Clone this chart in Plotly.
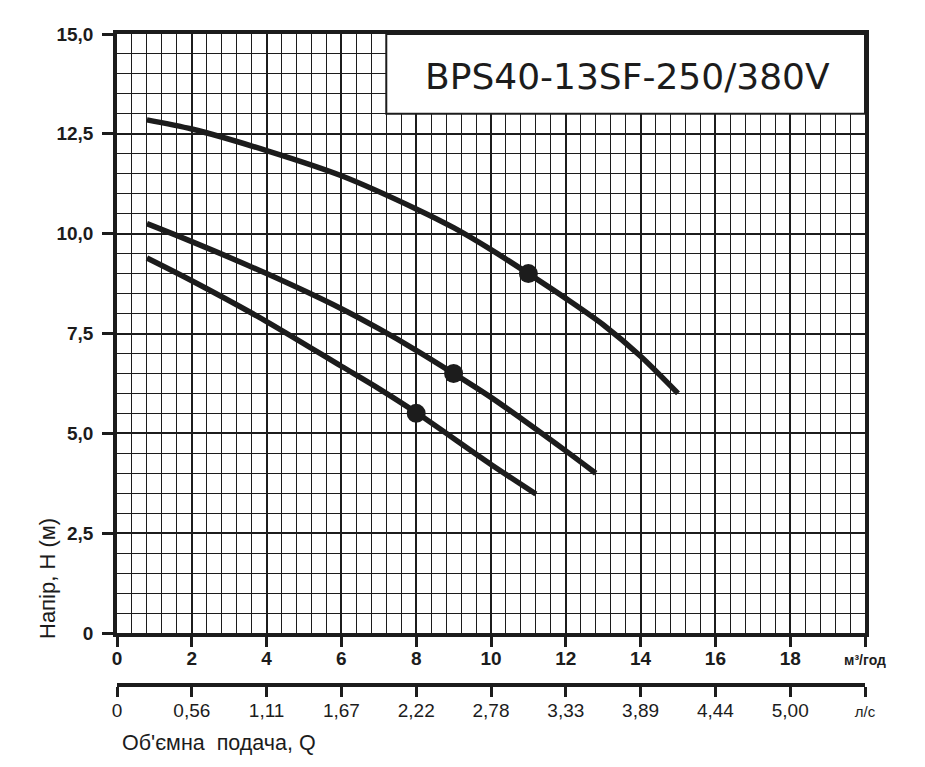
import plotly.graph_objects as go

# ---- data ----
top_q = [0.8, 2, 4, 6, 8, 9, 10, 11, 12, 13, 14, 15]
top_h = [12.85, 12.62, 12.08, 11.45, 10.62, 10.15, 9.6, 9.0, 8.38, 7.72, 6.93, 6.0]
mid_q = [0.8, 2, 4, 6, 7, 8, 9, 10, 12, 12.8]
mid_h = [10.25, 9.8, 9.0, 8.12, 7.62, 7.08, 6.5, 5.9, 4.56, 4.0]
bot_q = [0.8, 2, 4, 6, 7, 8, 10, 11.2]
bot_h = [9.39, 8.82, 7.8, 6.68, 6.12, 5.52, 4.22, 3.48]
dot_q = [11, 9, 8]
dot_h = [9.0, 6.5, 5.5]

x_ticks = [0, 2, 4, 6, 8, 10, 12, 14, 16, 18, 20]
x_labels = ["0", "2", "4", "6", "8", "10", "12", "14", "16", "18",
            "<span style='font-size:14px'>м³/год</span>"]
ls_labels = ["0", "0,56", "1,11", "1,67", "2,22", "2,78", "3,33", "3,89", "4,44", "5,00",
             "<span style='font-size:15px'>л/с</span>"]
y_ticks = [0, 2.5, 5, 7.5, 10, 12.5, 15]
y_labels = ["0", "2,5", "5,0", "7,5", "10,0", "12,5", "15,0"]
title_text = "BPS40-13SF-250/380V"
x_title = "Об'ємна\u00a0\u00a0подача, Q"
y_title = "Напір, H (м)"

INK = "#1c1c1c"
OFF = 8  # page body margin
W, H = 925 - OFF, 767 - OFF
L, R, T, B = 117 - OFF, 60, 34 - OFF, 84
plot_w = W - L - R
plot_h = H - T - B
main_bottom = (683 - 633) / plot_h

fig = go.Figure()
for q, h in [(top_q, top_h), (mid_q, mid_h), (bot_q, bot_h)]:
    fig.add_trace(go.Scatter(x=q, y=h, mode="lines",
                             line=dict(color=INK, width=5.5, shape="spline", smoothing=0.8),
                             hoverinfo="skip", showlegend=False))
fig.add_trace(go.Scatter(x=dot_q, y=dot_h, mode="markers",
                         marker=dict(color=INK, size=19), showlegend=False, hoverinfo="skip"))
# invisible trace on secondary axis so it renders
fig.add_trace(go.Scatter(x=[0, 20], y=[0, 1], xaxis="x2", yaxis="y2", mode="markers",
                         marker=dict(opacity=0), showlegend=False, hoverinfo="skip"))

fig.update_layout(
    width=W, height=H,
    margin=dict(l=L, r=R, t=T, b=B),
    paper_bgcolor="white", plot_bgcolor="white",
    font=dict(family="Liberation Sans", color=INK),
    xaxis=dict(range=[0, 20], domain=[0, 1], anchor="y",
               tickvals=x_ticks, ticktext=x_labels,
               tickfont=dict(family="Liberation Sans", size=19, weight="bold", color=INK),
               ticks="outside", ticklen=10, tickwidth=3, tickcolor=INK,
               showline=True, linewidth=3.5, linecolor=INK, mirror=True,
               showgrid=True, gridcolor=INK, gridwidth=2.4,
               minor=dict(dtick=0.4, tick0=0, showgrid=True, gridcolor=INK, gridwidth=1.1),
               zeroline=False, fixedrange=True, ticklabelstandoff=-5),
    yaxis=dict(range=[0, 15], domain=[main_bottom, 1], anchor="x",
               tickvals=y_ticks, ticktext=y_labels,
               tickfont=dict(family="Liberation Sans", size=19, weight="bold", color=INK),
               ticks="outside", ticklen=11, tickwidth=3, tickcolor=INK,
               showline=True, linewidth=3.5, linecolor=INK, mirror=True,
               showgrid=True, gridcolor=INK, gridwidth=2.4,
               minor=dict(dtick=0.5, tick0=0, showgrid=True, gridcolor=INK, gridwidth=1.1),
               zeroline=False, fixedrange=True, ticklabelstandoff=5),
    xaxis2=dict(range=[0, 20], domain=[0, 1], anchor="y2",
                tickvals=x_ticks, ticktext=ls_labels,
                tickfont=dict(family="Liberation Sans", size=19, color=INK),
                ticks="outside", ticklen=10, tickwidth=3, tickcolor=INK,
                showline=True, linewidth=3.5, linecolor=INK,
                showgrid=False, zeroline=False, fixedrange=True, ticklabelstandoff=-3),
    yaxis2=dict(domain=[0, 0.002], anchor="x2", visible=False, range=[0, 1]),
    shapes=[dict(type="rect", xref="x", yref="y", x0=7.2, x1=20, y0=13, y1=15,
                 fillcolor="white", line=dict(color=INK, width=2), layer="between")],
    annotations=[
        dict(text=title_text, xref="x", yref="y", x=13.65, y=13.93, showarrow=False,
             xanchor="center", yanchor="middle",
             font=dict(family="DejaVu Sans", size=36, color=INK)),
        dict(text=x_title, xref="paper", yref="paper", x=(120 - 117) / plot_w,
             y=(683 - 743) / plot_h, xanchor="left", yanchor="middle", showarrow=False,
             font=dict(family="Liberation Sans", size=21.5, color=INK)),
        dict(text=y_title, xref="paper", yref="paper", x=(47 - 117) / plot_w,
             y=(683 - 579) / plot_h, xanchor="center", yanchor="middle", showarrow=False,
             textangle=-90, font=dict(family="Liberation Sans", size=22, color=INK)),
    ],
)

fig.write_html("out.html", config={"displayModeBar": False})
